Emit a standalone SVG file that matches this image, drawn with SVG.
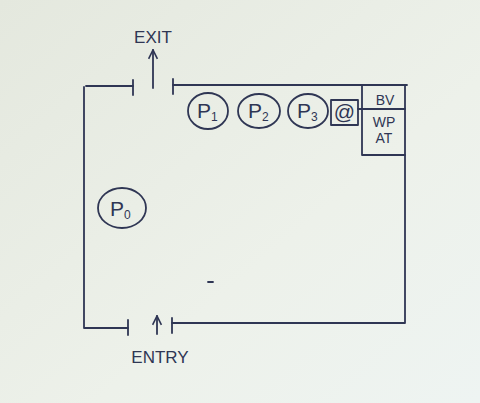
<svg xmlns="http://www.w3.org/2000/svg" width="480" height="403" viewBox="0 0 480 403">
<style>
.ink{fill:none;stroke:#2f3654;stroke-width:1.8;stroke-linecap:round;stroke-linejoin:round}
.t{font-family:"Liberation Sans",Arial,sans-serif;fill:#2f3654}
.lbl{font-size:17px}
.p{font-size:21px}
.sub{font-size:12px}
.sm{font-size:14px}
</style>
<defs>
<linearGradient id="bg" x1="0" y1="0" x2="1" y2="1">
<stop offset="0" stop-color="#e4e8de"/>
<stop offset="0.6" stop-color="#edf1ea"/>
<stop offset="1" stop-color="#eef4f2"/>
</linearGradient>
<marker id="ah" viewBox="0 0 10 10" refX="9" refY="5" markerWidth="11" markerHeight="11" orient="auto" markerUnits="userSpaceOnUse">
<path d="M1,1 L9,5 L1,9" fill="none" stroke="#2f3654" stroke-width="1.5"/>
</marker>
</defs>
<rect width="480" height="403" fill="url(#bg)"/>

<g id="room">
<path class="ink" d="M84,87 L84,328 L128,328"/>
<path class="ink" d="M86,86 L133,86"/>
<path class="ink" d="M133,80 L133,95"/>
<path class="ink" d="M173,79 L173,94"/>
<path class="ink" d="M173,85 L407,85"/>
<path class="ink" d="M405,85 L405,323 L172,323"/>
<path class="ink" d="M128,320 L128,335"/>
<path class="ink" d="M172,318 L172,333"/>
<path class="ink" d="M208,282 L213,282"/>
</g>

<g id="connectors">
<line class="ink" x1="153" y1="88" x2="153" y2="50" marker-end="url(#ah)"/>
<line class="ink" x1="157" y1="334" x2="157" y2="316" marker-end="url(#ah)"/>
</g>

<g id="exit">
<text class="t lbl" x="153" y="43" text-anchor="middle">EXIT</text>
</g>
<g id="entry">
<text class="t lbl" x="160" y="363" text-anchor="middle">ENTRY</text>
</g>

<g id="P0">
<ellipse class="ink" cx="122" cy="208" rx="24" ry="20"/>
<text class="t p" x="110" y="216">P<tspan class="sub" dy="3">0</tspan></text>
</g>
<g id="P1">
<ellipse class="ink" cx="208" cy="111" rx="20" ry="18"/>
<text class="t p" x="197" y="118">P<tspan class="sub" dy="3">1</tspan></text>
</g>
<g id="P2">
<ellipse class="ink" cx="259" cy="111" rx="21" ry="17"/>
<text class="t p" x="248" y="118">P<tspan class="sub" dy="3">2</tspan></text>
</g>
<g id="P3">
<ellipse class="ink" cx="308" cy="111" rx="20" ry="17"/>
<text class="t p" x="297" y="118">P<tspan class="sub" dy="3">3</tspan></text>
</g>
<g id="at">
<rect class="ink" x="331" y="100" width="27" height="25"/>
<text class="t p" x="344.5" y="119" text-anchor="middle">@</text>
</g>
<g id="counter">
<path class="ink" d="M362,85 L362,155 L405,155"/>
<line class="ink" x1="358" y1="109" x2="405" y2="109"/>
<text class="t sm" x="385" y="105" text-anchor="middle">BV</text>
<text class="t sm" x="384" y="127" text-anchor="middle">WP</text>
<text class="t sm" x="384" y="143" text-anchor="middle">AT</text>
</g>
</svg>
